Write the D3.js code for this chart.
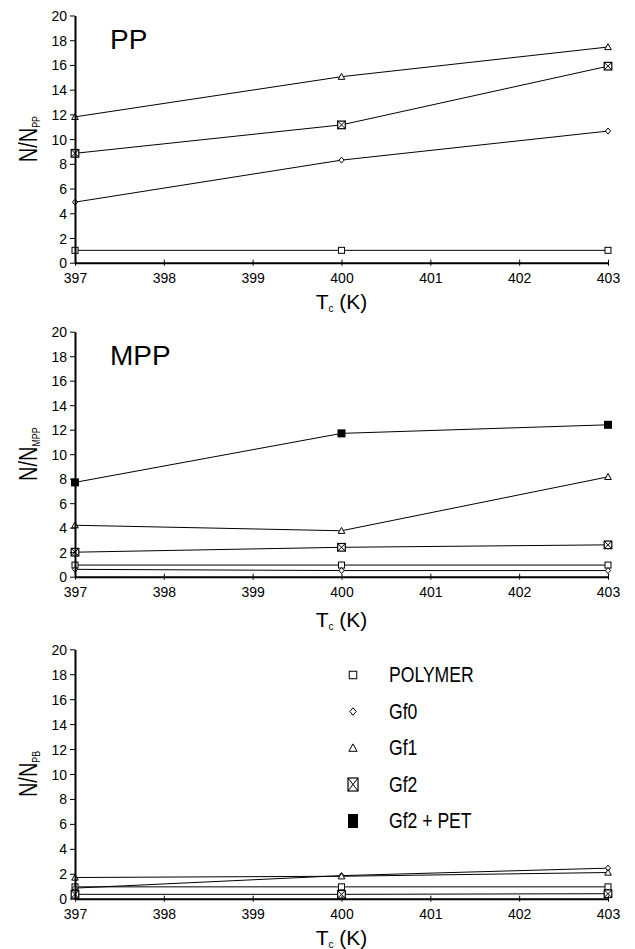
<!DOCTYPE html>
<html>
<head>
<meta charset="utf-8">
<script src="https://cdn.jsdelivr.net/npm/d3@7"></script>
<style>
  body { margin: 0; background: #fff; }
  svg { font-family: "Liberation Sans", Arial, sans-serif; }
  .axis path, .axis line { stroke: #000; }
  .axis text { font-size: 14px; fill: #000; }
  .line { fill: none; stroke: #000; stroke-width: 1; }
</style>
</head>
<body>
<div id="chart-container"></div>
<script>
// Data
var temps = [397, 400, 403]
var xTicks = [397, 398, 399, 400, 401, 402, 403]
var yTicks = [0, 2, 4, 6, 8, 10, 12, 14, 16, 18, 20]
var seriesNames = ['POLYMER', 'Gf0', 'Gf1', 'Gf2', 'Gf2 + PET']

var ppPolymer = [1, 1, 1]
var ppGf0 = [4.9, 8.3, 10.65]
var ppGf1 = [11.8, 15.05, 17.45]
var ppGf2 = [8.85, 11.15, 15.9]

var mppPolymer = [0.95, 0.95, 0.95]
var mppGf0 = [0.6, 0.5, 0.5]
var mppGf1 = [4.2, 3.75, 8.15]
var mppGf2 = [2.0, 2.4, 2.6]
var mppGf2Pet = [7.7, 11.7, 12.4]

var pbPolymer = [0.95, 0.95, 0.95]
var pbGf0 = [0.85, 1.85, 2.45]
var pbGf1 = [1.7, 1.8, 2.1]
var pbGf2 = [0.35, 0.35, 0.4]

var WIDTH = 635
var HEIGHT = 949
var NARROW = 0.8 // horizontal squeeze, no narrow font installed

var svg = d3.select('#chart-container')
  .append('svg')
  .attr('width', WIDTH)
  .attr('height', HEIGHT)

svg.append('rect').attr('width', WIDTH).attr('height', HEIGHT).attr('fill', '#fff')

var xScale = d3.scaleLinear()
  .domain([397, 403])
  .range([75, 608])

// marker drawing, one per series index
function drawMarker(g, type, x, y, big) {
  var s = big ? 1.25 : 1
  if (type === 0) {
    g.append('rect')
      .attr('x', x - 3 * s).attr('y', y - 3 * s)
      .attr('width', 6 * s).attr('height', 6 * s)
      .attr('fill', '#fff').attr('stroke', '#000').attr('stroke-width', 1)
  } else if (type === 1) {
    var d = 3 * s
    g.append('path')
      .attr('d', 'M' + x + ',' + (y - d) + 'L' + (x + d * 0.85) + ',' + y + 'L' + x + ',' + (y + d) + 'L' + (x - d * 0.85) + ',' + y + 'Z')
      .attr('fill', '#fff').attr('stroke', '#000').attr('stroke-width', 1)
  } else if (type === 2) {
    var t = 3.3 * s
    g.append('path')
      .attr('d', 'M' + x + ',' + (y - t) + 'L' + (x + t) + ',' + (y + t * 0.8) + 'L' + (x - t) + ',' + (y + t * 0.8) + 'Z')
      .attr('fill', '#fff').attr('stroke', '#000').attr('stroke-width', 1)
  } else if (type === 3) {
    var h = (big ? 5 : 3.8)
    g.append('rect')
      .attr('x', x - h).attr('y', y - h * (big ? 1.3 : 1))
      .attr('width', 2 * h).attr('height', 2 * h * (big ? 1.3 : 1))
      .attr('fill', '#fff').attr('stroke', '#000').attr('stroke-width', 1.2)
    var hy = h * (big ? 1.3 : 1)
    g.append('path')
      .attr('d', 'M' + (x - h) + ',' + (y - hy) + 'L' + (x + h) + ',' + (y + hy) + 'M' + (x + h) + ',' + (y - hy) + 'L' + (x - h) + ',' + (y + hy))
      .attr('stroke', '#000').attr('stroke-width', 1)
  } else {
    var w = big ? 5 : 4
    var hh = big ? 7 : 4
    g.append('rect')
      .attr('x', x - w).attr('y', y - hh)
      .attr('width', 2 * w).attr('height', 2 * hh)
      .attr('fill', '#000')
  }
}

function drawPanel(opts) {
  var yScale = d3.scaleLinear()
    .domain([0, 20])
    .range([opts.y0, opts.y20])

  var g = svg.append('g').attr('class', 'panel')

  // lines + markers
  var lineGenerator = d3.line()
    .x(function(d, i) { return xScale(temps[i]) })
    .y(function(d) { return yScale(d) })

  opts.series.forEach(function(s) {
    g.append('path')
      .datum(s.values)
      .attr('class', 'line')
      .attr('d', lineGenerator)
  })
  opts.series.forEach(function(s) {
    s.values.forEach(function(v, i) {
      drawMarker(g, s.type, xScale(temps[i]), yScale(v), false)
    })
  })

  /* x axis */
  var xAxis = g.append('g')
    .attr('class', 'axis axis--x')
    .attr('transform', 'translate(0, ' + opts.y0 + ')')
    .call(d3.axisBottom(xScale).tickValues(xTicks).tickFormat(d3.format('d')).tickSizeInner(3).tickSizeOuter(0).tickPadding(7))
  xAxis.select('.domain').attr('stroke-width', 2)
  xAxis.selectAll('.tick line').attr('y1', -3).attr('y2', 3)

  /* y axis */
  var yAxis = g.append('g')
    .attr('class', 'axis axis--y')
    .attr('transform', 'translate(' + xScale(397) + ', 0)')
    .call(d3.axisLeft(yScale).tickValues(yTicks).tickSizeInner(5).tickSizeOuter(0).tickPadding(3))
  yAxis.select('.domain').attr('stroke-width', 2)
  yAxis.selectAll('.tick text').attr('dy', '0.36em')

  // panel title
  g.append('text')
    .attr('x', 110)
    .attr('y', yScale(17.3))
    .attr('font-size', 28)
    .text(opts.title)

  // x label
  var xl = g.append('text')
    .attr('x', (xScale(397) + xScale(403)) / 2)
    .attr('y', opts.y0 + opts.xLabelOffset)
    .attr('text-anchor', 'middle')
    .attr('font-size', 21)
  xl.append('tspan').text('T')
  xl.append('tspan').attr('font-size', 10).attr('dy', 3).text('c')
  xl.append('tspan').attr('dy', -3).text(' (K)')

  // y label (squeezed along its reading direction)
  var yl = g.append('text')
    .attr('transform', 'translate(37, ' + yScale(10) + ') rotate(-90) scale(' + NARROW + ',1)')
    .attr('text-anchor', 'middle')
    .attr('font-size', 25)
  yl.append('tspan').text('N/N')
  yl.append('tspan').attr('font-size', 11).attr('dy', 3).text(opts.sub)

  return g
}

drawPanel({
  title: 'PP', sub: 'PP', y0: 262.7, y20: 15.5, xLabelOffset: 46,
  series: [
    {type: 0, values: ppPolymer},
    {type: 1, values: ppGf0},
    {type: 2, values: ppGf1},
    {type: 3, values: ppGf2}
  ]
})

drawPanel({
  title: 'MPP', sub: 'MPP', y0: 576.7, y20: 331.7, xLabelOffset: 50,
  series: [
    {type: 0, values: mppPolymer},
    {type: 1, values: mppGf0},
    {type: 2, values: mppGf1},
    {type: 3, values: mppGf2},
    {type: 4, values: mppGf2Pet}
  ]
})

drawPanel({
  title: '', sub: 'PB', y0: 898.7, y20: 649.3, xLabelOffset: 46,
  series: [
    {type: 0, values: pbPolymer},
    {type: 1, values: pbGf0},
    {type: 2, values: pbGf1},
    {type: 3, values: pbGf2}
  ]
})

// Legend (in the PB panel)
var legendY = d3.scaleLinear().domain([0, 4]).range([675, 821])
var legend = svg.append('g').attr('class', 'legend')
seriesNames.forEach(function(name, i) {
  drawMarker(legend, i, 353, legendY(i), true)
  legend.append('text')
    .attr('transform', 'translate(389, ' + (legendY(i) + 7) + ') scale(' + NARROW + ',1)')
    .attr('font-size', 22)
    .text(name)
})
</script>
</body>
</html>
